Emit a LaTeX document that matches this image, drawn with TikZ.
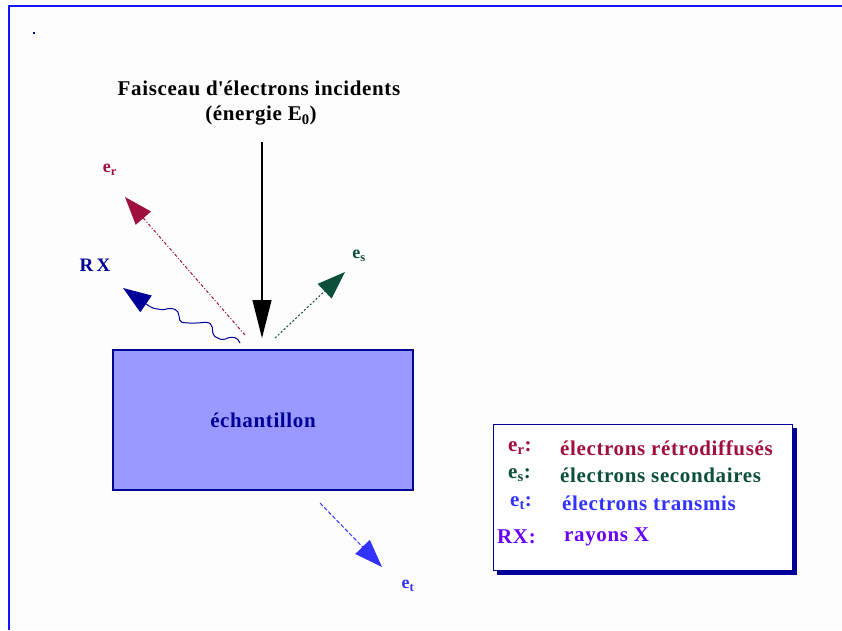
\documentclass[tikz,border=0pt]{standalone}
\usepackage{fontspec}
\setmainfont{Liberation Serif}[LetterSpace=3]
\usetikzlibrary{arrows.meta}
\definecolor{frameblue}{HTML}{1414FF}
\definecolor{bgwhite}{HTML}{FDFDFD}
\definecolor{navy}{HTML}{000099}
\definecolor{boxfill}{HTML}{9999FF}
\definecolor{redr}{HTML}{A0103C}
\definecolor{greens}{HTML}{0C4F3C}
\definecolor{bluet}{HTML}{3333FF}
\definecolor{purplex}{HTML}{6A00FF}
\tikzset{
  txt/.style={inner sep=0pt, font=\fontsize{21}{24}\bfseries\selectfont},
  lbl/.style={inner sep=0pt, font=\fontsize{18}{21}\bfseries\selectfont},
  legtxt/.style={inner sep=0pt, anchor=west, font=\fontsize{21}{24}\bfseries\selectfont},
  head/.style={-{Triangle[length=28pt,width=20pt]}},
}
\begin{document}
\begin{tikzpicture}[x=1pt,y=-1pt]
\useasboundingbox (0,0) rectangle (842,630);
\fill[white] (0,0) rectangle (842,630);
\fill[bgwhite] (10,7) rectangle (842,630);
\draw[frameblue, line width=2pt] (9,630) -- (9,6) -- (842,6);
\fill[navy] (33,32) rectangle (35,34);

% title
\node[txt] (title1) at (259,88) {Faisceau d\textquotesingle électrons incidents};
\node[txt] (title2) at (261,116) {(énergie E\textsubscript{0})};

% sample
\node[draw=navy, fill=boxfill, line width=1.3pt, minimum width=300pt, minimum height=140pt,
      txt, text=navy] (sample) at (263,420) {échantillon};

% coordinates
\coordinate (beamtop) at (262,142);
\coordinate (beamend) at (262,338);
\coordinate (rstart) at (245,335);
\coordinate (rtip) at (125,197);
\coordinate (sstart) at (275,338);
\coordinate (stip) at (345,272);
\coordinate (tstart) at (320,503);
\coordinate (ttip) at (382,567);

% incident beam
\draw[black, line width=1.2pt, -{Triangle[length=38pt,width=19pt]}] (beamtop) -- (beamend);

% backscattered
\draw[redr, line width=1pt, dash pattern=on 3pt off 2pt on 1pt off 2pt, head] (rstart) -- (rtip);
\node[lbl, text=redr] (er) at (110,170) {e\textsubscript{r}};

% secondary
\draw[greens, line width=1pt, dash pattern=on 2pt off 2pt, head] (sstart) -- (stip);
\node[lbl, text=greens] (es) at (359,256) {e\textsubscript{s}};

% X rays (wavy)
\draw[navy, line width=1pt, rounded corners=2pt, head]
  (240,343) -- (237,338) -- (230,337) -- (223,340) -- (217,338) -- (213,335) -- (212,325)
  -- (208,322) -- (198,323) -- (187,323) -- (180,322) -- (179,315) -- (177,310)
  -- (170,308) -- (163,310) -- (152,308) -- (123,288);
\node[inner sep=0pt, font=\fontsize{19}{22}\bfseries\selectfont, text=navy] (rx) at (95,265) {R\,X};

% transmitted
\draw[bluet, line width=1pt, dash pattern=on 4pt off 2pt, head] (tstart) -- (ttip);
\node[lbl, text=bluet] (et) at (408,586) {e\textsubscript{t}};

% legend
\fill[navy] (497,428) rectangle (797,575);
\node[draw=navy, fill=white, line width=1.3pt, minimum width=299pt, minimum height=146pt, inner sep=0pt]
  (legend) at (643,497.5) {};
\node[legtxt, text=redr] (k1) at (508,448) {e\textsubscript{r}:};
\node[legtxt, text=redr] (v1) at (560,448) {électrons rétrodiffusés};
\node[legtxt, text=greens] (k2) at (508,475) {e\textsubscript{s}:};
\node[legtxt, text=greens] (v2) at (560,475) {électrons secondaires};
\node[legtxt, text=bluet] (k3) at (510,503) {e\textsubscript{t}:};
\node[legtxt, text=bluet] (v3) at (562,503) {électrons transmis};
\node[legtxt, text=purplex] (k4) at (497,537) {RX:};
\node[legtxt, text=purplex] (v4) at (564,537) {rayons X};
\end{tikzpicture}
\end{document}
